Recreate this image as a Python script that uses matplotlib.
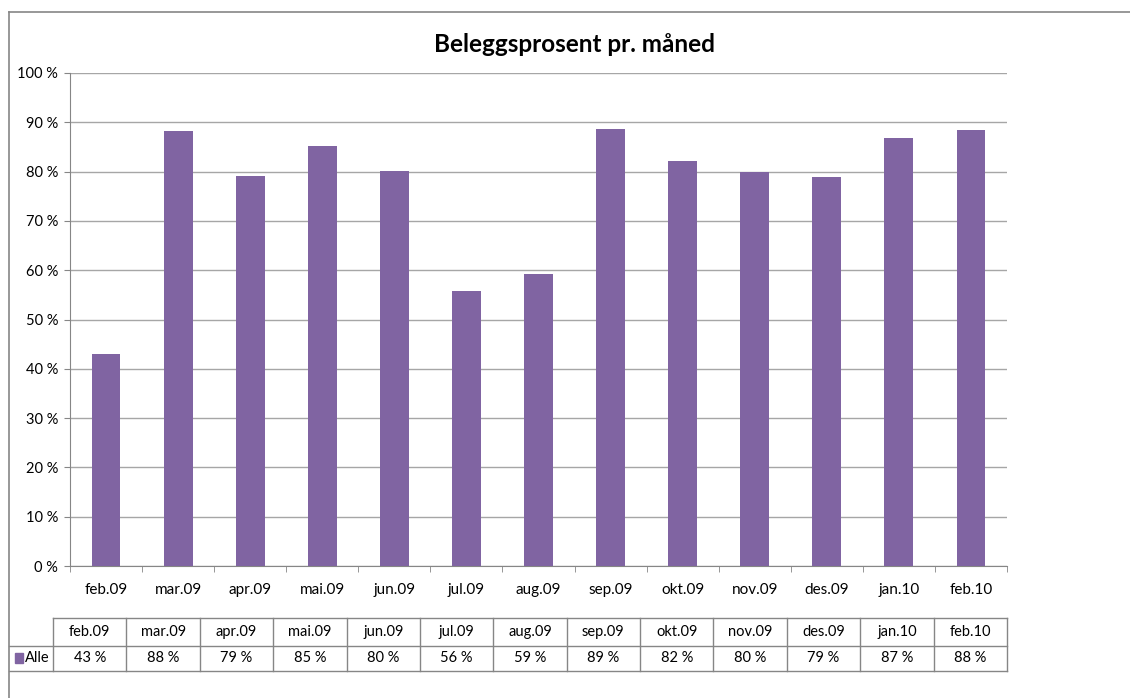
"""
plot.py
-------
Occupancy per month ("Beleggsprosent pr. måned"): Excel-style bar chart
with a data table underneath.
"""

import matplotlib
matplotlib.use('Agg')
import matplotlib.pyplot as plt
from matplotlib.patches import Rectangle
from matplotlib.ticker import MultipleLocator, FuncFormatter

plt.rcParams['font.family'] = ['Lato', 'DejaVu Sans']

months = ['feb.09', 'mar.09', 'apr.09', 'mai.09', 'jun.09', 'jul.09', 'aug.09',
          'sep.09', 'okt.09', 'nov.09', 'des.09', 'jan.10', 'feb.10']
occupancy = [43.0, 88.3, 79.2, 85.2, 80.1, 55.8, 59.2, 88.6, 82.2, 79.9, 78.9, 86.8, 88.4]
series_name = 'Alle'

BAR = '#8064A2'
GRID = '#a6a6a6'
LINE = '#868686'

W, H = 1130, 698
fig = plt.figure(figsize=(W / 100, H / 100), dpi=100)


def px(x0, y0, x1, y1):
    # pixel box (top-left origin) -> figure fraction rect
    return [x0 / W, 1 - y1 / H, (x1 - x0) / W, (y1 - y0) / H]


# outer chart-area border (only top and left visible in the export)
border = fig.add_axes([0, 0, 1, 1], zorder=-1)
border.set_xlim(0, W)
border.set_ylim(H, 0)
border.axis('off')
border.plot([9, W], [12, 12], color=LINE, lw=1.2)
border.plot([9, 9], [12, H], color=LINE, lw=1.2)

# main bar chart
ax = fig.add_axes(px(70, 73, 1007, 566))
x = range(len(months))
ax.bar(x, occupancy, width=0.4, color=BAR, zorder=3)
ax.set_xlim(-0.5, len(months) - 0.5)
ax.set_ylim(0, 100)
ax.yaxis.set_major_locator(MultipleLocator(10))
ax.yaxis.set_major_formatter(FuncFormatter(lambda v, _: f'{v:.0f} %'))
ax.grid(axis='y', color=GRID, lw=1.0, zorder=0)
ax.set_xticks(list(x))
ax.set_xticklabels(months)
ax.set_xticks([i - 0.5 for i in range(len(months) + 1)], minor=True)
ax.tick_params(axis='x', which='major', length=0, pad=12.5, labelsize=11)
ax.tick_params(axis='x', which='minor', length=4, color=LINE, direction='out')
ax.tick_params(axis='y', length=4.5, color=LINE, pad=4, labelsize=10.5)
for side in ('top', 'right'):
    ax.spines[side].set_visible(False)
ax.spines['left'].set_color(LINE)
ax.spines['bottom'].set_color(LINE)

fig.text(0.508, 1 - 44 / H, 'Beleggsprosent pr. måned', ha='center', va='center',
         fontsize=17.5, fontweight='bold')

# data table below the chart
tax = fig.add_axes(px(53, 618, 1007, 671))
n = len(months)
tax.set_xlim(0, n)
tax.set_ylim(0, 53)
tax.axis('off')
label_x = -44 / (954 / n)
kw = dict(color=LINE, lw=1.0, clip_on=False)
tax.plot([0, n], [53, 53], **kw)
tax.plot([label_x, n], [25, 25], **kw)
tax.plot([label_x, n], [0, 0], **kw)
for i in range(n + 1):
    tax.plot([i, i], [0, 53], **kw)
for i, (m, v) in enumerate(zip(months, occupancy)):
    tax.text(i + 0.5, 39, m, ha='center', va='center', fontsize=10.5)
    tax.text(i + 0.5, 12.5, f'{round(v):.0f} %', ha='center', va='center', fontsize=10.5)
tax.add_patch(Rectangle((label_x + 0.08, 8), 0.11, 10, color=BAR, clip_on=False))
tax.text(label_x + 0.22, 12.5, series_name, ha='left', va='center', fontsize=10.5)

fig.savefig('out.png', dpi=100)
